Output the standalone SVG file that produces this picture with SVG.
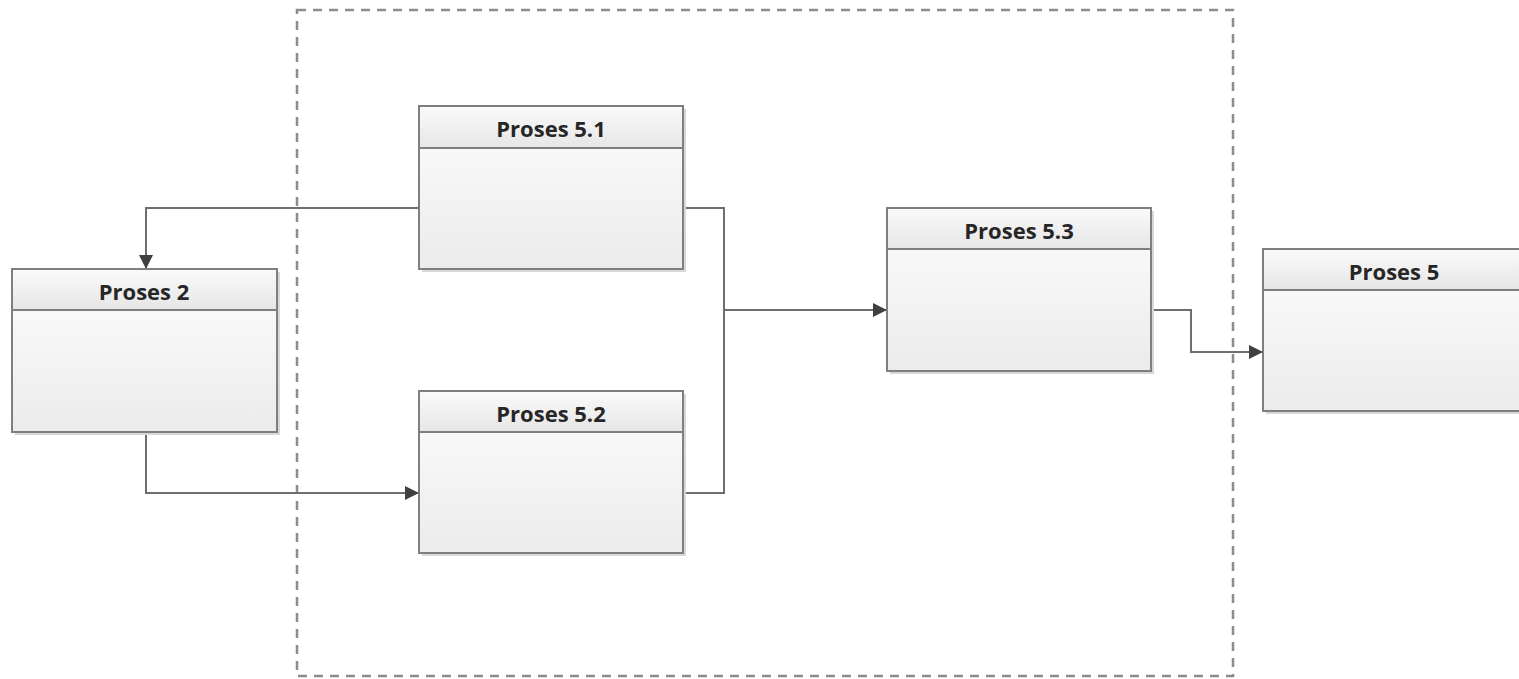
<svg xmlns="http://www.w3.org/2000/svg" width="1519" height="679" viewBox="0 0 1519 679">
<defs>
<linearGradient id="hg" x1="0" y1="0" x2="0" y2="1"><stop offset="0" stop-color="#fafafa"/><stop offset="1" stop-color="#e6e6e6"/></linearGradient>
<linearGradient id="bg" x1="0" y1="0" x2="0" y2="1"><stop offset="0" stop-color="#fdfdfd"/><stop offset="1" stop-color="#ebebeb"/></linearGradient>
<marker id="ar" viewBox="0 0 10 10" refX="10" refY="5" markerWidth="14" markerHeight="14" markerUnits="userSpaceOnUse" orient="auto"><path d="M0,0 L10,5 L0,10 z" fill="#404040"/></marker>
</defs>
<style>
.box{stroke:#7f7f7f;stroke-width:2}
.hdr{fill:url(#hg)}
.body{fill:url(#bg)}
.sh{fill:#d8d8d8}
.t{font-family:"Open Sans","Liberation Sans",sans-serif;font-weight:bold;font-size:22px;fill:#262626;text-anchor:middle}
.c{fill:none;stroke:#6e6e6e;stroke-width:2}
.d{fill:none;stroke:#8c8c8c;stroke-width:2.5;stroke-dasharray:9,7}
</style>
<rect width="1519" height="679" fill="#ffffff"/>
<rect id="boundary" class="d" x="297" y="10" width="936" height="666"/>
<g id="connectors">
<polyline class="c" points="419,208 146,208 146,269" marker-end="url(#ar)"/>
<polyline class="c" points="146,432 146,493 419,493" marker-end="url(#ar)"/>
<polyline class="c" points="683,208 724,208 724,493 683,493"/>
<polyline class="c" points="724,310 887,310" marker-end="url(#ar)"/>
<polyline class="c" points="1151,310 1191,310 1191,352 1263,352" marker-end="url(#ar)"/>
</g>
<g id="p51">
<rect class="sh" x="422" y="109" width="264" height="163"/>
<rect class="box body" x="419" y="106" width="264" height="163"/>
<rect class="box hdr" x="419" y="106" width="264" height="42"/>
<text class="t" x="551" y="137">Proses 5.1</text>
</g>
<g id="p2">
<rect class="sh" x="15" y="272" width="265" height="163"/>
<rect class="box body" x="12" y="269" width="265" height="163"/>
<rect class="box hdr" x="12" y="269" width="265" height="41"/>
<text class="t" x="144" y="300">Proses 2</text>
</g>
<g id="p52">
<rect class="sh" x="422" y="394" width="264" height="162"/>
<rect class="box body" x="419" y="391" width="264" height="162"/>
<rect class="box hdr" x="419" y="391" width="264" height="41"/>
<text class="t" x="551" y="422">Proses 5.2</text>
</g>
<g id="p53">
<rect class="sh" x="890" y="211" width="264" height="163"/>
<rect class="box body" x="887" y="208" width="264" height="163"/>
<rect class="box hdr" x="887" y="208" width="264" height="41"/>
<text class="t" x="1019" y="239">Proses 5.3</text>
</g>
<g id="p5">
<rect class="sh" x="1266" y="252" width="264" height="162"/>
<rect class="box body" x="1263" y="249" width="264" height="162"/>
<rect class="box hdr" x="1263" y="249" width="264" height="41"/>
<text class="t" x="1394" y="280">Proses 5</text>
</g>
</svg>
